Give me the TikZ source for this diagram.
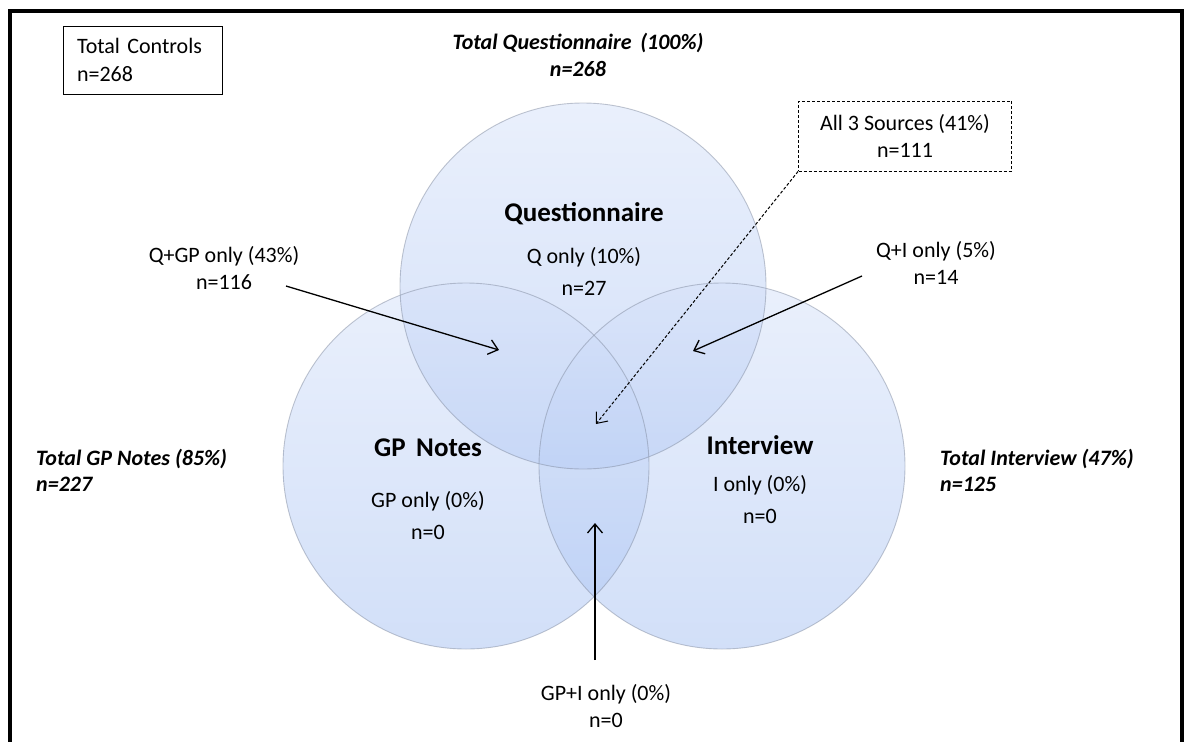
\documentclass[tikz,border=0pt]{standalone}
\usepackage{fontspec}
\setmainfont{Carlito}
\usetikzlibrary{arrows.meta}
\definecolor{vennTop}{RGB}{213,225,249}
\definecolor{vennBot}{RGB}{165,192,242}
\definecolor{vennEdge}{RGB}{130,140,160}
\begin{document}
\begin{tikzpicture}[x=1pt,y=-1pt,
  lbl/.style={align=center,font=\fontsize{22}{27}\selectfont,inner sep=0pt},
  region/.style={align=center,font=\fontsize{22}{32}\selectfont,inner sep=0pt},
  ttl/.style={align=left,font=\fontsize{22}{26}\selectfont\bfseries\itshape,inner sep=0pt},
  setname/.style={font=\fontsize{27}{32}\selectfont\bfseries,inner sep=0pt},
  ptr/.style={line width=1.3pt,-{Straight Barb[length=9pt,width=15pt]}},
  vennfill/.style={top color=vennTop,bottom color=vennBot,fill opacity=0.5,draw=none},
  vennline/.style={draw=vennEdge,line width=0.9pt,draw opacity=0.5},
  frameline/.style={line width=4pt}]
\useasboundingbox (0,0) rectangle (1187,742);

% open frame (no bottom edge)
\draw[frameline] (9.5,742) -- (9.5,10.5) -- (1181.5,10.5) -- (1181.5,742);

% the three sets
\coordinate (cQ) at (583,286);
\coordinate (cG) at (466,466);
\coordinate (cI) at (722,466);
\shade[vennfill] (cQ) circle (183pt);
\shade[vennfill] (cG) circle (183pt);
\shade[vennfill] (cI) circle (183pt);
\draw[vennline] (cQ) circle (183pt);
\draw[vennline] (cG) circle (183pt);
\draw[vennline] (cI) circle (183pt);

% total box
\node[draw,line width=1pt,align=left,text width=131pt,inner xsep=14pt,inner ysep=0pt,
      minimum width=159pt,minimum height=68pt,font=\fontsize{22}{28}\selectfont]
      (ctrl) at (142.5,60) {Total Controls\\n=268};

% totals per source
\node[lbl,font=\fontsize{22}{27}\selectfont\bfseries\itshape] (totQ) at (578,55) {Total Questionnaire\, (100\%)\\n=268};
\node[ttl,anchor=west] (totG) at (36,470) {Total GP Notes (85\%)\\n=227};
\node[ttl,anchor=west] (totI) at (940,470) {Total Interview (47\%)\\n=125};

% set names and single-source counts
\node[setname] (nQ) at (584,214) {Questionnaire};
\node[region] (rQ) at (584,271) {Q only (10\%)\\n=27};
\node[setname] (nG) at (428,448) {GP\,\ Notes};
\node[region] (rG) at (428,516) {GP only (0\%)\\n=0};
\node[setname] (nI) at (760,445) {Interview};
\node[region] (rI) at (760,500) {I only (0\%)\\n=0};

% overlap labels
\node[draw,dashed,dash pattern=on 3pt off 2pt,line width=0.9pt,lbl,
      minimum width=213pt,minimum height=70pt] (all) at (905,136) {All 3 Sources (41\%)\\n=111};
\node[lbl] (qi) at (936,263) {Q+I only (5\%)\\n=14};
\node[lbl] (qg) at (224,268) {Q+GP only (43\%)\\n=116};
\node[lbl] (gi) at (606,706) {GP+I only (0\%)\\n=0};

% pointer ends
\coordinate (qgS) at (286,286);
\coordinate (qgT) at (499,350);
\coordinate (qiS) at (862,276);
\coordinate (qiT) at (693,351);
\coordinate (allT) at (596,424);
\coordinate (giS) at (595,660);
\coordinate (giT) at (595,523);

\draw[ptr] (qgS) -- (qgT);
\draw[ptr] (qiS) -- (qiT);
\draw[ptr,dash pattern=on 3pt off 2pt,line width=1pt] (all.south west) -- (allT);
\draw[ptr] (giS) -- (giT);
\end{tikzpicture}
\end{document}
